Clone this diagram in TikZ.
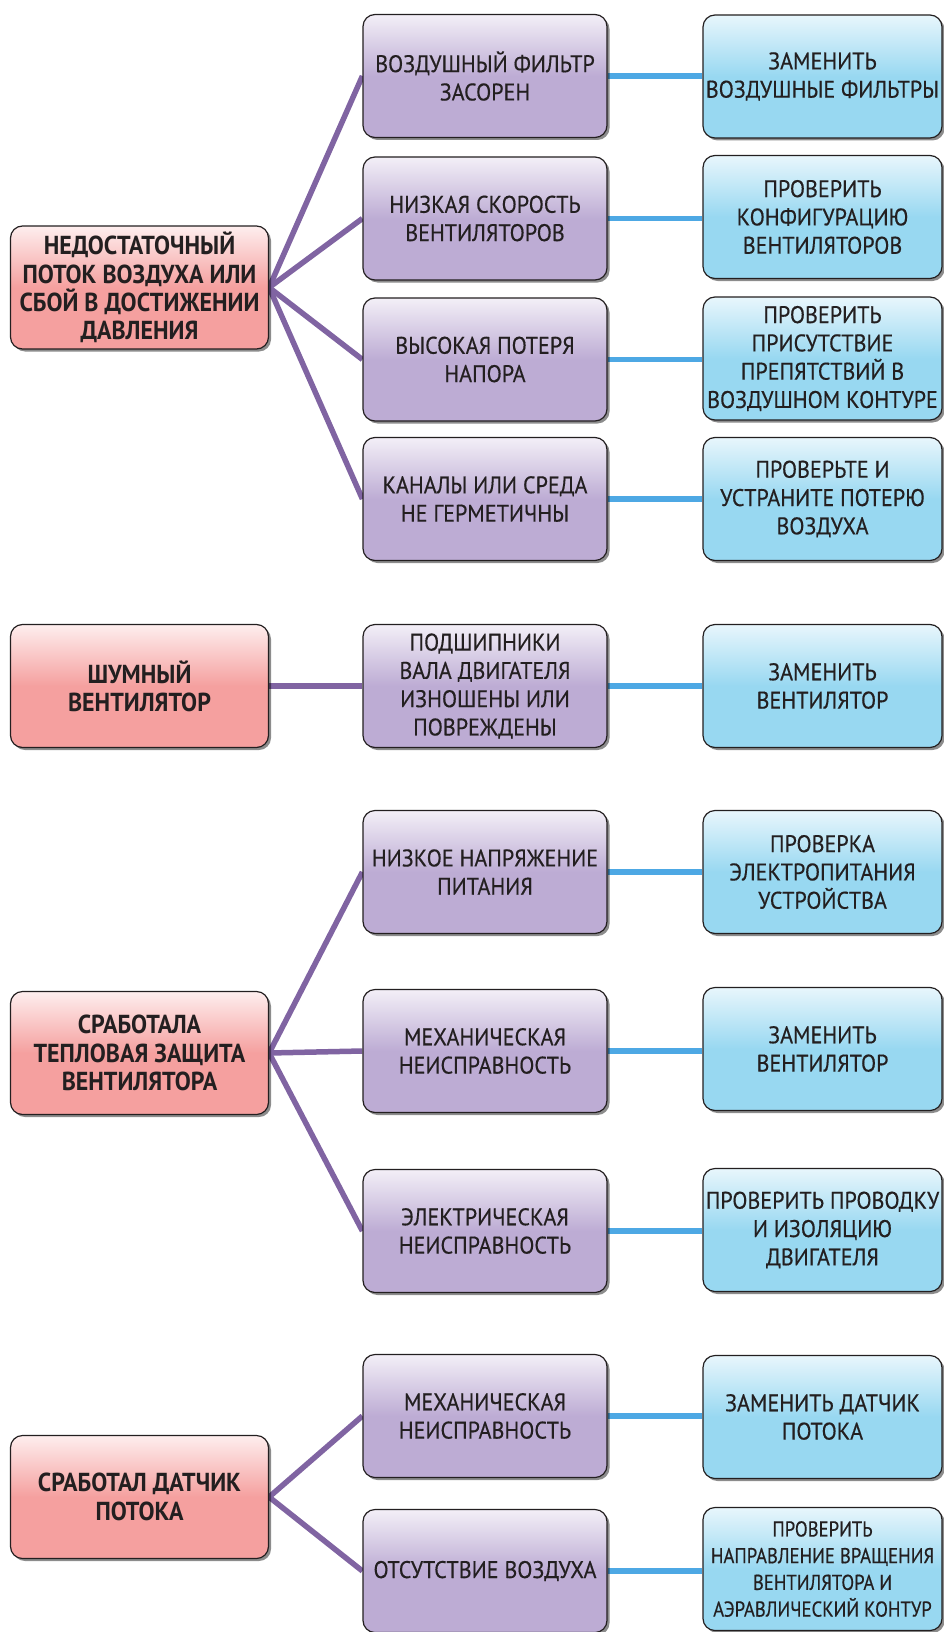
\documentclass[tikz,border=0pt]{standalone}
\usepackage{fontspec}
\setmainfont{PT Sans}[FakeStretch=0.92, FakeBold=0.4, BoldFeatures={FakeBold=0}]
\usetikzlibrary{shadows,backgrounds}

% box fills: pale tint at the top, full colour from the middle down
\definecolor{redF}{RGB}{245,160,159}
\definecolor{redL}{RGB}{254,238,238}
\definecolor{purF}{RGB}{189,172,212}
\definecolor{purL}{RGB}{243,239,247}
\definecolor{bluF}{RGB}{152,216,241}
\definecolor{bluL}{RGB}{232,246,252}
\definecolor{edge}{RGB}{35,31,32}
\definecolor{purLine}{RGB}{128,100,162}
\definecolor{bluLine}{RGB}{77,168,228}

\pgfdeclareverticalshading{redsh}{100bp}{color(0bp)=(redF); color(50bp)=(redF); color(75bp)=(redL); color(100bp)=(redL)}
\pgfdeclareverticalshading{pursh}{100bp}{color(0bp)=(purF); color(50bp)=(purF); color(75bp)=(purL); color(100bp)=(purL)}
\pgfdeclareverticalshading{blush}{100bp}{color(0bp)=(bluF); color(50bp)=(bluF); color(75bp)=(bluL); color(100bp)=(bluL)}

\tikzset{
  box/.style={draw=edge, line width=1.2pt, rounded corners=12pt,
    minimum height=123pt, align=center, inner xsep=0pt, inner ysep=2pt,
    text=edge, font=\fontsize{24}{28.3}\selectfont,
    drop shadow={shadow xshift=2.5pt, shadow yshift=-2.5pt, opacity=0.45, fill=black}},
  problem/.style={box, shading=redsh, minimum width=258pt,
    font=\fontsize{26}{28.3}\selectfont\bfseries},
  cause/.style={box, shading=pursh, minimum width=244pt},
  remedy/.style={box, shading=blush, minimum width=239pt},
  plink/.style={draw=purLine, line width=5.5pt},
  blink/.style={draw=bluLine, line width=5.5pt},
}

\begin{document}
\begin{tikzpicture}[x=1pt, y=-1pt]
\useasboundingbox (0,0) rectangle (944,1632);

% --- insufficient airflow ---
\node[problem] (r1) at (139.5,287.5) {НЕДОСТАТОЧНЫЙ\\ПОТОК ВОЗДУХА ИЛИ\\СБОЙ В ДОСТИЖЕНИИ\\ДАВЛЕНИЯ};
\node[cause] (p11) at (485,76) {ВОЗДУШНЫЙ ФИЛЬТР\\ЗАСОРЕН};
\node[cause] (p12) at (485,218.5) {НИЗКАЯ СКОРОСТЬ\\ВЕНТИЛЯТОРОВ};
\node[cause] (p13) at (485,359.5) {ВЫСОКАЯ ПОТЕРЯ\\НАПОРА};
\node[cause] (p14) at (485,499) {КАНАЛЫ ИЛИ СРЕДА\\НЕ ГЕРМЕТИЧНЫ};
\node[remedy] (b11) at (822.5,76.5) {ЗАМЕНИТЬ\\ВОЗДУШНЫЕ ФИЛЬТРЫ};
\node[remedy] (b12) at (822.5,217) {ПРОВЕРИТЬ\\КОНФИГУРАЦИЮ\\ВЕНТИЛЯТОРОВ};
\node[remedy] (b13) at (822.5,358.5) {ПРОВЕРИТЬ\\ПРИСУТСТВИЕ\\ПРЕПЯТСТВИЙ В\\ВОЗДУШНОМ КОНТУРЕ};
\node[remedy] (b14) at (822.5,499) {ПРОВЕРЬТЕ И\\УСТРАНИТЕ ПОТЕРЮ\\ВОЗДУХА};

% --- noisy fan ---
\node[problem] (r2) at (139.5,686) {ШУМНЫЙ\\ВЕНТИЛЯТОР};
\node[cause] (p21) at (485,686) {ПОДШИПНИКИ\\ВАЛА ДВИГАТЕЛЯ\\ИЗНОШЕНЫ ИЛИ\\ПОВРЕЖДЕНЫ};
\node[remedy] (b21) at (822.5,686) {ЗАМЕНИТЬ\\ВЕНТИЛЯТОР};

% --- thermal protection tripped ---
\node[problem] (r3) at (139.5,1053) {СРАБОТАЛА\\ТЕПЛОВАЯ ЗАЩИТА\\ВЕНТИЛЯТОРА};
\node[cause] (p31) at (485,872) {НИЗКОЕ НАПРЯЖЕНИЕ\\ПИТАНИЯ};
\node[cause] (p32) at (485,1051) {МЕХАНИЧЕСКАЯ\\НЕИСПРАВНОСТЬ};
\node[cause] (p33) at (485,1231) {ЭЛЕКТРИЧЕСКАЯ\\НЕИСПРАВНОСТЬ};
\node[remedy] (b31) at (822.5,872) {ПРОВЕРКА\\ЭЛЕКТРОПИТАНИЯ\\УСТРОЙСТВА};
\node[remedy] (b32) at (822.5,1049) {ЗАМЕНИТЬ\\ВЕНТИЛЯТОР};
\node[remedy] (b33) at (822.5,1230) {ПРОВЕРИТЬ ПРОВОДКУ\\И ИЗОЛЯЦИЮ\\ДВИГАТЕЛЯ};

% --- flow sensor tripped ---
\node[problem] (r4) at (139.5,1497) {СРАБОТАЛ ДАТЧИК\\ПОТОКА};
\node[cause] (p41) at (485,1416) {МЕХАНИЧЕСКАЯ\\НЕИСПРАВНОСТЬ};
\node[cause] (p42) at (485,1571) {ОТСУТСТВИЕ ВОЗДУХА};
\node[remedy] (b41) at (822.5,1417) {ЗАМЕНИТЬ ДАТЧИК\\ПОТОКА};
\node[remedy, font=\fontsize{21.5}{26.7}\selectfont\addfontfeature{FakeStretch=0.87}] (b42) at (822.5,1569) {ПРОВЕРИТЬ\\НАПРАВЛЕНИЕ ВРАЩЕНИЯ\\ВЕНТИЛЯТОРА И\\АЭРАВЛИЧЕСКИЙ КОНТУР};

% connectors sit behind the boxes
\begin{pgfonlayer}{background}
  \foreach \p in {p11,p12,p13,p14} \draw[plink] (r1.east) -- (\p.west);
  \draw[plink] (r2.east) -- (p21.west);
  \foreach \p in {p31,p32,p33} \draw[plink] (r3.east) -- (\p.west);
  \foreach \p in {p41,p42} \draw[plink] (r4.east) -- (\p.west);
  \foreach \p/\b in {p11/b11,p12/b12,p13/b13,p14/b14,p21/b21,p31/b31,p32/b32,p33/b33,p41/b41,p42/b42}
    \draw[blink] (\p.east) -- (\p.east -| \b.west);
\end{pgfonlayer}
\end{tikzpicture}
\end{document}
